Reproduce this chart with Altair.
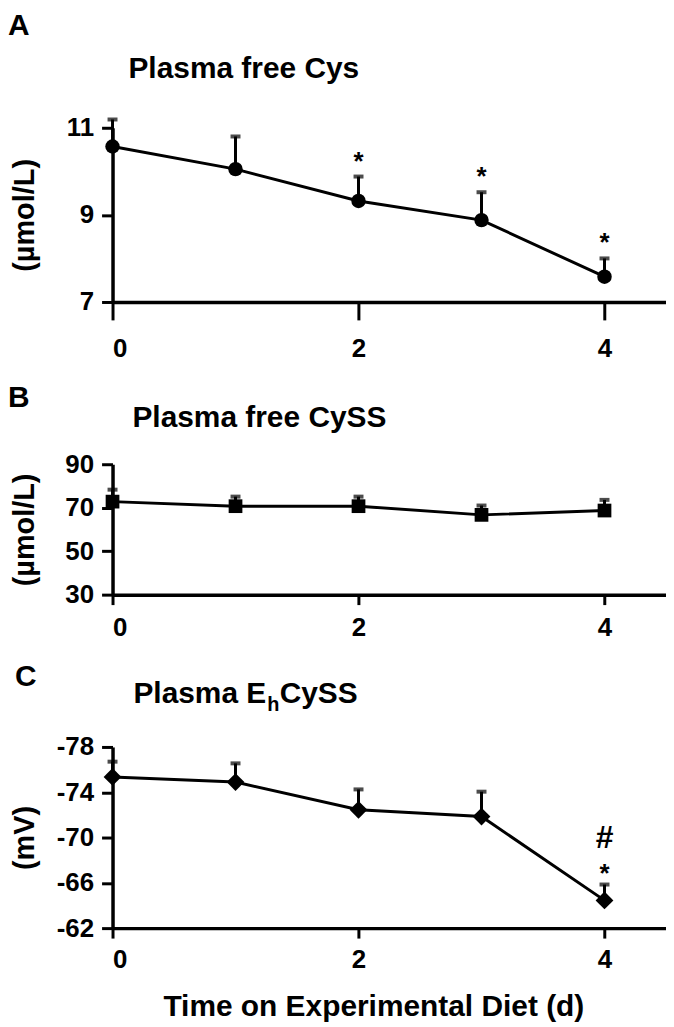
import altair as alt
import pandas as pd

# ---------------- data ----------------
days = [0, 1, 2, 3, 4]

cys_mean = [10.57, 10.05, 9.32, 8.88, 7.58]
cys_upper = [11.19, 10.80, 9.88, 9.52, 8.00]
cys_sig = ["", "", "*", "*", "*"]

cyss_mean = [72.8, 70.7, 70.7, 66.7, 68.7]
cyss_upper = [78.3, 75.1, 75.1, 71.0, 73.6]
cyss_sig = ["", "", "", "", ""]

eh_mean = [-75.35, -74.9, -72.45, -71.85, -64.45]
eh_upper = [-76.7, -76.55, -74.25, -74.05, -65.85]
eh_sig = ["", "", "", "", "*"]
eh_hash = ["", "", "", "", "#"]

x_ticks = [0, 2, 4]
cys_ticks = [7, 9, 11]
cyss_ticks = [30, 50, 70, 90]
eh_ticks = [-78, -74, -70, -66, -62]

FONT = "Liberation Sans"
PLOT_W = 556
PLAIN = "'' + datum.value"


def make_df(mean, upper, sig, hsh=None):
    d = {"day": days, "mean": mean, "upper": upper, "sig": sig}
    if hsh is not None:
        d["hash"] = hsh
    return pd.DataFrame(d)


def label_layer(text, x, y, size, align="left"):
    return alt.Chart(pd.DataFrame({"t": [text]})).mark_text(
        font=FONT, fontSize=size, fontWeight="bold", color="black",
        align=align, baseline="alphabetic"
    ).encode(text="t:N", x=alt.value(x), y=alt.value(y))


def panel(df, domain, ticks, height, shape, size, ytitle, letter, letter_xy,
          title_parts, xtick_size, label_pad, reverse=False, xtitle=None,
          hash_col=False, sig_dy=-7):
    xaxis_kw = dict(values=x_ticks, tickSize=xtick_size, labelPadding=label_pad,
                    title=None, labelExpr=PLAIN)
    if xtitle:
        xaxis_kw.update(title=xtitle, titleFont=FONT, titleFontSize=30,
                        titleFontWeight="bold", titleColor="black",
                        titleX=262, titleY=88, titleBaseline="alphabetic",
                        titleAlign="center")
    x = alt.X("day:Q", scale=alt.Scale(domain=[0, 4.5], nice=False),
              axis=alt.Axis(**xaxis_kw))
    yscale = alt.Scale(domain=domain, nice=False, zero=False, reverse=reverse)
    y = alt.Y("mean:Q", scale=yscale,
              axis=alt.Axis(values=ticks, title=ytitle, titleX=-88,
                            titleY=height / 2, titleBaseline="middle",
                            titleAlign="center", titleAngle=-90,
                            labelExpr=PLAIN))
    base = alt.Chart(df)
    line = base.mark_line(color="black", strokeWidth=3).encode(x=x, y=y)
    err = base.mark_rule(color="black", strokeWidth=3).encode(
        x="day:Q", y="mean:Q", y2="upper:Q")
    cap = base.mark_tick(color="black", orient="horizontal", size=10,
                         thickness=4).encode(x="day:Q", y="upper:Q")
    pts = base.mark_point(filled=True, shape=shape, size=size, color="black",
                          opacity=1).encode(x="day:Q", y="mean:Q")
    sig = base.mark_text(font=FONT, fontSize=26, fontWeight="bold",
                         color="black", baseline="alphabetic", dy=sig_dy).encode(
        x="day:Q", y="upper:Q", text="sig:N")
    layers = [err, cap, line, pts, sig]
    if hash_col:
        layers.append(base.mark_text(font=FONT, fontSize=32, fontWeight="bold",
                                     color="black", baseline="alphabetic",
                                     dy=-37).encode(
            x="day:Q", y="upper:Q", text="hash:N"))
    layers.append(label_layer(letter, letter_xy[0], letter_xy[1], 30))
    for (t, tx, ty, ts) in title_parts:
        layers.append(label_layer(t, tx, ty, ts))
    return alt.layer(*layers).properties(width=PLOT_W, height=height)


pA = panel(make_df(cys_mean, cys_upper, cys_sig), [7, 11], cys_ticks, 175,
           "circle", 210, "(µmol/L)", "A", (-105, -93),
           [("Plasma free Cys", 16, -50, 30)], 18, 16)
pB = panel(make_df(cyss_mean, cyss_upper, cyss_sig), [30, 90], cyss_ticks, 131,
           "square", 190, "(µmol/L)", "B", (-105, -57),
           [("Plasma free CySS", 20, -37, 30)], 10, 10)
w1 = 4.447 * 30
pC = panel(make_df(eh_mean, eh_upper, eh_sig, eh_hash), [-78, -62], eh_ticks, 182,
           "diamond", 320, "(mV)", "C", (-98, -61),
           [("Plasma E", 21, -44, 30), ("h", 21 + w1 + 1, -36, 20),
            ("CySS", 21 + w1 + 1 + 12.5, -44, 30)], 10, 9,
           reverse=True, xtitle="Time on Experimental Diet (d)", hash_col=True,
           sig_dy=-3)

chart = alt.vconcat(pA, pB, pC, spacing=22).configure_view(
    stroke=None
).configure_axis(
    labelFont=FONT, labelFontSize=26, labelFontWeight="bold", labelColor="black",
    titleFont=FONT, titleFontSize=29, titleFontWeight="bold", titleColor="black",
    domainColor="black", domainWidth=3.5, tickColor="black", tickWidth=3,
    grid=False
).configure_axisY(tickSize=11, labelPadding=8).properties(
    padding={"left": 0, "top": 1, "right": 0, "bottom": 0}
)

chart.save("out.html", embed_options={"renderer": "svg", "actions": False})
